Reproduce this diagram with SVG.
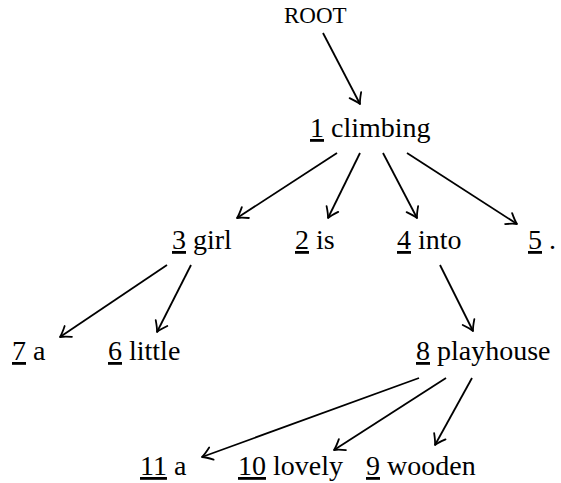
<svg xmlns="http://www.w3.org/2000/svg" width="561" height="483" viewBox="0 0 561 483">
<style>
text{font-family:'Liberation Serif','DejaVu Serif',serif;font-size:28px;fill:#000}
.root{font-size:23px}
.n{text-decoration:underline}
.e{stroke:#000;stroke-width:1.8;fill:none;marker-end:url(#ah)}
</style>
<defs>
<marker id="ah" markerUnits="userSpaceOnUse" viewBox="-13 -8 15 16" refX="0" refY="0" markerWidth="15" markerHeight="16" orient="auto">
<path d="M-10,-6.5 Q-3.5,-1.5 0,0 Q-3.5,1.5 -10,6.5" stroke="#000" stroke-width="1.8" fill="none" stroke-linecap="round" stroke-linejoin="round"/>
</marker>
</defs>
<g id="connectors">
<line class="e" x1="323" y1="33" x2="360" y2="104"/>
<line class="e" x1="337" y1="153" x2="237" y2="218"/>
<line class="e" x1="360" y1="153" x2="328" y2="218"/>
<line class="e" x1="383" y1="153" x2="417" y2="218"/>
<line class="e" x1="407" y1="153" x2="517" y2="224"/>
<line class="e" x1="167" y1="265" x2="60" y2="337"/>
<line class="e" x1="191" y1="265" x2="157" y2="332"/>
<line class="e" x1="440" y1="265" x2="473" y2="331"/>
<line class="e" x1="419" y1="378" x2="202" y2="457"/>
<line class="e" x1="446" y1="378" x2="334" y2="450"/>
<line class="e" x1="472" y1="378" x2="435" y2="445"/>
</g>
<g id="root"><text class="root" x="284" y="23">ROOT</text></g>
<g id="w1"><text x="310" y="137"><tspan class="n">1</tspan> climbing</text></g>
<g id="w3"><text x="172" y="249"><tspan class="n">3</tspan> girl</text></g>
<g id="w2"><text x="295" y="249"><tspan class="n">2</tspan> is</text></g>
<g id="w4"><text x="397" y="249"><tspan class="n">4</tspan> into</text></g>
<g id="w5"><text x="528" y="249"><tspan class="n">5</tspan> .</text></g>
<g id="w7"><text x="12" y="360"><tspan class="n">7</tspan> a</text></g>
<g id="w6"><text x="108" y="360"><tspan class="n">6</tspan> little</text></g>
<g id="w8"><text x="416" y="360"><tspan class="n">8</tspan> playhouse</text></g>
<g id="w11"><text x="140" y="475"><tspan class="n">11</tspan> a</text></g>
<g id="w10"><text x="238" y="475"><tspan class="n">10</tspan> lovely</text></g>
<g id="w9"><text x="366" y="475"><tspan class="n">9</tspan> wooden</text></g>
</svg>
